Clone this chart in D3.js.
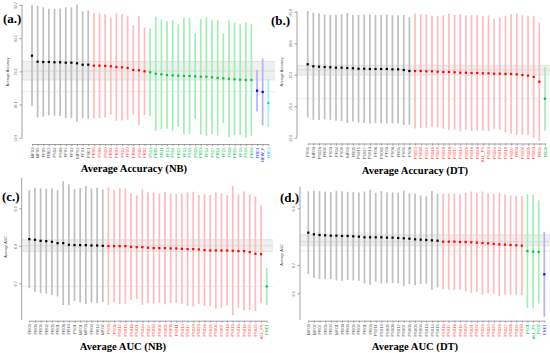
<!DOCTYPE html>
<html><head><meta charset="utf-8">
<script src="https://cdn.jsdelivr.net/npm/d3@7"></script>
<style>body{margin:0;background:#fff}svg{display:block}</style>
</head><body>
<svg id="chart" width="550" height="353"></svg>
<script>
// ---------- group styling ----------
const dotColors   = ["#000000", "#ff0000", "#00c83c", "#0000ff", "#00dede"];
const barColors   = ["#c0c0c0", "#ffbcbc", "#a2efb6", "#b2b2ff", "#a2f2f2"];
const labelColors = ["#555555", "#ff3a3a", "#00c040", "#3a3aff", "#00d4d4"];

// ---------- panel (a) Average Accuracy (NB) ----------
const labelsA = ["MF03","MF05","FF05","FRE2","FS04","FS06","FF07","FF02","MFS2","FF01","FSE1",
  "FR06","FS08","FS10","FR04","FR03","FS12","FF10","FR08","FS05","FR02",
  "FS13","FR09","FR11","FF13","FS14","FR12","FF12","FS15","FS16","FR13","FF14","FS17","FR14","FF15","FS18","FR15","FF16","FS19","FR16",
  "FRE1","NEW_F","FRE3"];
const countsA = [11, 10, 19, 2, 1];
const meanA = [80.17,78.69,78.61,78.61,78.54,78.54,78.44,78.44,78.29,77.94,77.94,
  77.70,77.70,77.62,77.55,77.38,77.30,77.13,76.63,76.56,76.31,
  76.07,75.72,75.57,75.40,75.32,75.23,75.15,75.15,75.08,74.98,74.98,74.83,74.66,74.58,74.48,74.34,74.24,74.16,74.16,
  71.52,71.20,68.48];
const sdA = [12.48,13.79,13.52,13.17,13.22,13.30,13.72,13.67,14.53,13.17,13.42,
  13.05,12.98,12.78,11.94,13.27,13.17,12.78,11.12,13.47,10.83,
  10.80,14.09,13.59,13.30,13.72,12.68,14.41,14.29,10.58,14.34,14.63,14.09,14.26,11.12,14.41,13.89,13.67,14.29,13.79,
  5.14,8.28,5.93];
const yTicksA = [92.7, 84.5, 76.3, 68.1, 59.9];
const bandA = [78.74, 76.39, 74.16];
const refA = 71.27;

// ---------- panel (b) Average Accuracy (DT) ----------
const labelsB = ["FS01","MF03","FS026","FR02","FS03","FF04","FS09","MF01","FR05","FS019","FS027","FS013","FF06","FS011","FF03","FS06","FR01","FS02","FS08",
  "FS021","FS030","FS022","FS015","FS029","FS020","FS018","FS017","FS014","FS025","FS016","FS028","ALL_FS","FS023","FS024","FS012","FS010","FS007","FR03","FS004","FS005","FS003","FR04",
  "FR06"];
const countsB = [19, 23, 1, 0, 0];
const meanB = [77.79,77.48,77.42,77.37,77.33,77.27,77.27,77.22,77.18,77.11,77.11,77.07,77.07,77.07,77.07,77.02,77.02,76.92,76.76,
  76.76,76.76,76.72,76.72,76.66,76.61,76.61,76.57,76.50,76.50,76.46,76.46,76.41,76.41,76.35,76.35,76.31,76.31,76.26,76.15,76.05,75.85,75.13,
  72.54];
const sdB = [8.12,8.15,8.12,8.00,8.00,8.08,8.15,8.38,8.12,8.20,8.26,8.30,8.23,8.26,8.30,8.23,8.26,8.38,8.18,
  8.76,8.64,8.64,8.46,8.50,8.64,8.88,8.76,8.94,8.72,8.81,8.81,8.72,8.81,8.38,8.50,8.88,9.10,9.26,9.10,9.07,9.26,9.02,
  4.88];
const yTicksB = [85.8, 81.0, 76.2, 71.4, 66.6];
const bandB = [77.63, 76.92, 76.15];
const refB = 72.54;

// ---------- panel (c) Average AUC (NB) ----------
const labelsC = ["FR03","FR06","FR09","FR02","FR05","FR01","FR08","FR10","FS01","MF01","MF03","FR04","FR12","MF02",
  "FS03","FS06","FS012","FS015","FS018","FS021","FS024","FS027","FS030","FS002","FS005","FS008","FS011","FS014","FS017","FS020","FS023","FS026","FS029","FS004","FS007","FS010","FS013","FS016","FS019","FS022","FS025","ALL_FS",
  "FRE1"];
const countsC = [14, 28, 1, 0, 0];
const meanC = [0.8178,0.8160,0.8133,0.8124,0.8107,0.8071,0.8071,0.8027,0.8018,0.8018,0.8018,0.8009,0.8009,0.8000,
  0.7991,0.7991,0.7991,0.7991,0.7973,0.7964,0.7964,0.7947,0.7938,0.7938,0.7938,0.7929,0.7929,0.7920,0.7911,0.7911,0.7902,0.7884,0.7876,0.7876,0.7876,0.7876,0.7867,0.7858,0.7858,0.7831,0.7787,0.7778,
  0.6916];
const sdC = [0.131,0.139,0.140,0.140,0.142,0.142,0.165,0.161,0.149,0.153,0.157,0.152,0.154,0.150,
  0.157,0.149,0.155,0.154,0.142,0.138,0.154,0.148,0.148,0.145,0.150,0.145,0.145,0.147,0.151,0.153,0.145,0.149,0.148,0.155,0.153,0.147,0.172,0.151,0.159,0.154,0.153,0.131,
  0.049];
const yTicksC = [0.9, 0.8, 0.7];
const bandC = [0.816, 0.800, 0.785];
const refC = 0.6916;

// ---------- panel (d) Average AUC (DT) ----------
const labelsD = ["MF03","MF02","FR07","FR05","FR04","MF01","FR08","FR06","FR09","FR02","FR01","FR03","FS011","FS010","FS009","FS008","FS012","FS007","FS006","FS005","FS004","FS013","FS014","FS015",
  "FS016","FS017","FS018","FS019","FS020","FS021","FS022","FS023","FS024","FS025","FS026","FS027","FS028","FS029","FS030",
  "FS01","ALL_FS","FS02",
  "FRE1"];
const countsD = [24, 15, 3, 1, 0];
const meanD = [0.8140,0.8082,0.8058,0.8047,0.8035,0.8035,0.8023,0.8023,0.8011,0.7999,0.7976,0.7976,0.7976,0.7976,0.7964,0.7964,0.7952,0.7941,0.7929,0.7905,0.7894,0.7882,0.7870,0.7858,
  0.7823,0.7823,0.7823,0.7811,0.7811,0.7800,0.7788,0.7776,0.7764,0.7741,0.7729,0.7717,0.7705,0.7694,0.7682,
  0.7494,0.7470,0.7459,
  0.6671];
const sdD = [0.146,0.154,0.155,0.154,0.153,0.158,0.158,0.156,0.156,0.156,0.162,0.168,0.157,0.163,0.160,0.160,0.160,0.168,0.160,0.162,0.156,0.154,0.174,0.165,
  0.168,0.170,0.170,0.168,0.174,0.179,0.175,0.182,0.176,0.176,0.182,0.177,0.175,0.175,0.175,
  0.200,0.200,0.182,
  0.150];
const yTicksD = [0.9, 0.7, 0.6];
const bandD = [0.806, 0.782, 0.768];
const refD = 0.749;

// ---------- layout ----------
const panels = [
  {tag:"(a.)", title:"Average Accuracy (NB)", ytitle:"Average Accuracy",
   labels:labelsA, counts:countsA, mean:meanA, sd:sdA, ticks:yTicksA, band:bandA, ref:refA,
   L:{x0:32, x1:268.3, axisX:22, tTop:5, tBot:137.7, aTop:5, aBot:137.7, xAxisY:144, bandR:275,
      titleX:134, titleY:172, tagX:3, tagY:23, ytX:8, ytY:72}},
  {tag:"(b.)", title:"Average Accuracy (DT)", ytitle:"Average Accuracy",
   labels:labelsB, counts:countsB, mean:meanB, sd:sdB, ticks:yTicksB, band:bandB, ref:refB,
   L:{x0:307.7, x1:545, axisX:297, tTop:11.7, tBot:137.7, aTop:11.7, aBot:137.7, xAxisY:143.5, bandR:550,
      titleX:415, titleY:174, tagX:271, tagY:25, ytX:282, ytY:72}},
  {tag:"(c.)", title:"Average AUC (NB)", ytitle:"Average AUC",
   labels:labelsC, counts:countsC, mean:meanC, sd:sdC, ticks:yTicksC, band:bandC, ref:refC,
   L:{x0:29.3, x1:266.7, axisX:21.7, tTop:208.3, tBot:283.3, aTop:178, aBot:320, xAxisY:320.7, bandR:273,
      titleX:123, titleY:350, tagX:2, tagY:201, ytX:6, ytY:247}},
  {tag:"(d.)", title:"Average AUC (DT)", ytitle:"Average AUC",
   labels:labelsD, counts:countsD, mean:meanD, sd:sdD, ticks:yTicksD, band:bandD, ref:refD,
   L:{x0:308.3, x1:544.3, axisX:300, tTop:208.3, tBot:293.3, aTop:186.7, aBot:320, xAxisY:320.7, bandR:550,
      titleX:415, titleY:350, tagX:280, tagY:202, ytX:282, ytY:255}}
];

const svg = d3.select("#chart");
svg.append("rect").attr("width",550).attr("height",353).attr("fill","#fff");

panels.forEach(p => {
  const L = p.L;
  const g = svg.append("g");
  const grp = [];
  p.counts.forEach((c, gi) => { for (let k = 0; k < c; k++) grp.push(gi); });
  const data = p.labels.map((lab, i) => ({lab, m:p.mean[i], s:p.sd[i], gi:grp[i]}));

  const x = d3.scalePoint().domain(p.labels).range([L.x0, L.x1]);
  const t = p.ticks;
  const y = d3.scaleLinear().domain([t[t.length-1], t[0]]).range([L.tBot, L.tTop]);

  // band
  g.append("rect").attr("x", L.axisX).attr("width", L.bandR - L.axisX)
    .attr("y", y(p.band[0])).attr("height", y(p.band[2]) - y(p.band[0]))
    .attr("fill", "#f0f0f0");
  p.band.forEach((b, bi) => {
    g.append("line").attr("x1", L.axisX).attr("x2", L.bandR)
      .attr("y1", y(b)).attr("y2", y(b))
      .attr("stroke", bi === 1 ? "#d2d2d2" : "#dadada").attr("stroke-width", 0.7);
  });
  g.append("line").attr("x1", L.axisX).attr("x2", L.bandR)
    .attr("y1", y(p.ref)).attr("y2", y(p.ref))
    .attr("stroke", "#e4e4e4").attr("stroke-width", 0.7);

  // error bars
  g.selectAll(".eb").data(data).join("rect")
    .attr("x", d => x(d.lab) - 0.85).attr("width", 1.7)
    .attr("y", d => y(d.m + d.s)).attr("height", d => y(d.m - d.s) - y(d.m + d.s))
    .attr("fill", d => barColors[d.gi]);
  // means
  g.selectAll(".pt").data(data).join("rect")
    .attr("x", d => x(d.lab) - 1.1).attr("y", d => y(d.m) - 1.1)
    .attr("width", 2.2).attr("height", 2.2)
    .attr("fill", d => dotColors[d.gi]);

  // y axis
  g.append("line").attr("x1", L.axisX).attr("x2", L.axisX).attr("y1", L.aTop).attr("y2", L.aBot)
    .attr("stroke", "#8a8a8a").attr("stroke-width", 0.8);
  const ya = g.append("g").attr("transform", `translate(${L.axisX},0)`)
    .call(d3.axisLeft(y).tickValues(t).tickSize(2.5).tickFormat(d3.format(".1f")));
  ya.select(".domain").remove();
  ya.selectAll(".tick line").attr("stroke", "#8a8a8a").attr("stroke-width", 0.8);
  ya.selectAll(".tick text").attr("fill", "#666").attr("font-size", 3.4)
    .attr("font-family", "Liberation Sans, Arial, sans-serif")
    .attr("x", null).attr("dy", null)
    .attr("text-anchor", "middle")
    .attr("transform", "translate(-5,0) rotate(-90)");

  // x axis
  const xa = g.append("g").attr("transform", `translate(0,${L.xAxisY})`)
    .call(d3.axisBottom(x).tickSize(2).tickSizeOuter(0));
  xa.select(".domain").attr("stroke", "#8a8a8a").attr("stroke-width", 0.8);
  xa.selectAll(".tick line").attr("stroke", "#8a8a8a").attr("stroke-width", 0.8);
  xa.selectAll(".tick text")
    .attr("fill", (d, i) => labelColors[grp[i]])
    .attr("font-size", 4.2).attr("font-family", "Liberation Sans, Arial, sans-serif")
    .attr("y", null).attr("dy", null)
    .attr("text-anchor", "end")
    .attr("dominant-baseline", "middle")
    .attr("transform", "translate(0,3.5) rotate(-90)");

  // y title
  g.append("text").attr("transform", `translate(${L.ytX},${L.ytY}) rotate(-90)`)
    .attr("text-anchor", "middle").attr("dominant-baseline", "middle")
    .attr("font-size", 3.6).attr("fill", "#444")
    .attr("font-family", "Liberation Sans, Arial, sans-serif").text(p.ytitle);

  // titles
  g.append("text").attr("x", L.titleX).attr("y", L.titleY).attr("text-anchor", "middle")
    .attr("font-family", "Liberation Serif, Times New Roman, serif").attr("font-weight", "bold")
    .attr("font-size", 10.6).attr("fill", "#000").text(p.title);
  g.append("text").attr("x", L.tagX).attr("y", L.tagY)
    .attr("font-family", "Liberation Serif, Times New Roman, serif").attr("font-weight", "bold")
    .attr("font-size", 13).attr("fill", "#000").text(p.tag);
});
</script>
</body></html>
